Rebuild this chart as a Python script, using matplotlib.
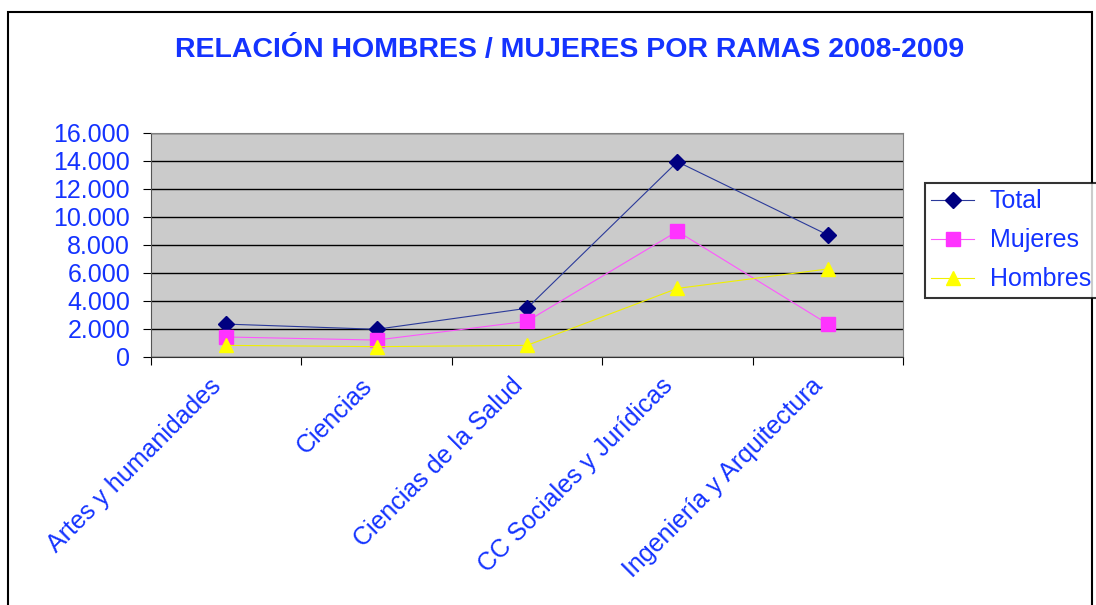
import numpy as np
import matplotlib.pyplot as plt
from matplotlib.patches import Rectangle

ramas = [
    "Artes y humanidades",
    "Ciencias",
    "Ciencias de la Salud",
    "CC Sociales y Jurídicas",
    "Ingeniería y Arquitectura",
]
total = [2350, 1980, 3480, 13950, 8720]
mujeres = [1430, 1210, 2550, 8980, 2360]
hombres = [830, 740, 830, 4900, 6290]
yticks = [0, 2000, 4000, 6000, 8000, 10000, 12000, 14000, 16000]
ytick_labels = ["0", "2.000", "4.000", "6.000", "8.000", "10.000", "12.000", "14.000", "16.000"]

BLUE = "#1433ff"
FS = 18

plt.rcParams["font.family"] = ["Liberation Sans", "DejaVu Sans"]

fig = plt.figure(figsize=(10.96, 6.05), dpi=100)
# outer chart border
fig.patches.append(Rectangle((8 / 1096, -0.01), 1084 / 1096, 1 - 12 / 605 + 0.01,
                             transform=fig.transFigure, fill=False,
                             edgecolor="black", linewidth=1.5))

ax = fig.add_axes([151 / 1096, 1 - 357 / 605, (903 - 151) / 1096, (357 - 133) / 605])
ax.set_facecolor("#cbcbcb")

x = np.arange(len(ramas)) + 0.5
ax.plot(x, total, color="#2b3a9a", linewidth=0.8, marker="D", markersize=8,
        markerfacecolor="#000080", markeredgecolor="#000080", label="Total")
ax.plot(x, mujeres, color="#ff55ff", linewidth=0.8, marker="s", markersize=10,
        markerfacecolor="#ff33ff", markeredgecolor="#ff33ff", label="Mujeres")
ax.plot(x, hombres, color="#f0f000", linewidth=0.8, marker="^", markersize=10,
        markerfacecolor="#ffff00", markeredgecolor="#ffff00", label="Hombres")

ax.set_xlim(0, len(ramas))
ax.set_ylim(0, 16000)
ax.set_yticks(yticks)
ax.set_yticklabels(ytick_labels, color=BLUE, fontsize=FS)
ax.yaxis.grid(True, color="black", linewidth=1)
ax.set_axisbelow(True)

# category boundaries get the tick marks, names sit in between
ax.set_xticks(np.arange(len(ramas) + 1))
ax.set_xticklabels([])
ax.set_xticks(x, minor=True)
ax.set_xticklabels(ramas, minor=True, rotation=45, ha="right", va="top",
                   color=BLUE, fontsize=FS)
ax.tick_params(axis="x", which="major", length=6, direction="out", color="black")
ax.tick_params(axis="x", which="minor", length=0, pad=12)
ax.tick_params(axis="y", length=6, color="black", pad=9)

for side in ["top", "right"]:
    ax.spines[side].set_color("#808080")
ax.spines["left"].set_color("#555555")
ax.spines["bottom"].set_color("#333333")

fig.text(570 / 1096, 1 - 50 / 605, "RELACIÓN HOMBRES / MUJERES POR RAMAS 2008-2009",
         ha="center", va="center", color=BLUE, fontsize=20.5, fontweight="bold")

leg = fig.legend(loc="upper left", bbox_to_anchor=(925 / 1096, 1 - 183 / 605),
                 frameon=True, fancybox=False, edgecolor="black", fontsize=FS,
                 handlelength=1.7, handletextpad=0.65, borderpad=0.25, labelspacing=0.6,
                 borderaxespad=0)
leg.get_frame().set_linewidth(1.5)
for t in leg.get_texts():
    t.set_color(BLUE)

fig.savefig("out.png", dpi=100)
